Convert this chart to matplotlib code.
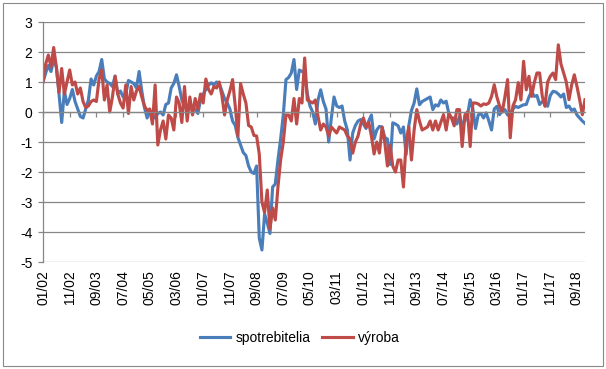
import matplotlib
matplotlib.use('Agg')
import matplotlib.pyplot as plt
from matplotlib.patches import Rectangle

plt.rcParams['font.family'] = ['Liberation Sans', 'DejaVu Sans']

# monthly values 01/2002 - 12/2018, one row per year
spotrebitelia = [
    1.0, 1.3, 1.55, 1.35, 1.75, 1.5, 0.6, -0.35, 0.7, 0.25, 0.45, 0.75,
    0.35, 0.1, -0.15, -0.2, 0.1, 0.4, 1.1, 0.9, 1.2, 1.35, 1.75, 1.1,
    1.0, 0.95, 0.85, 1.2, 0.6, 0.7, 0.5, 0.6, 1.05, 1.0, 0.95, 0.8,
    1.35, 0.7, 0.15, -0.2, 0.05, -0.1, -0.2, -0.05, 0.0, -0.1, 0.25, 0.3,
    0.8, 0.95, 1.24, 0.85, 0.4, 0.2, 0.05, 0.25, 0.1, 0.1, -0.05, 0.4,
    0.6, 0.75, 0.9, 0.97, 0.9, 1.0, 0.95, 0.7, 0.45, 0.3, 0.1, -0.3,
    -0.45, -0.85, -1.1, -1.35, -1.45, -1.8, -2.0, -2.05, -1.8, -4.2, -4.6, -3.4,
    -3.7, -4.05, -2.5, -2.4, -1.6, -0.9, -0.1, 1.08, 1.15, 1.3, 1.75, 0.75,
    1.4, 1.35, 1.3, 0.6, 0.2, 0.0, -0.4, 0.4, 0.74, 0.35, 0.1, -1.0,
    -0.2, 0.5, 0.2, 0.15, 0.2, -0.3, -0.6, -1.6, -0.7, -0.45, -0.3, -0.25,
    -0.4, -0.55, -0.3, -0.1, -0.9, -0.6, -0.48, -0.5, -0.85, -0.9, -1.75, -0.36,
    -0.4, -0.46, -0.7, -0.5, -1.42, -0.46, 0.05, 0.3, 0.77, 0.24, 0.35, 0.4,
    0.45, 0.5, 0.08, 0.24, 0.2, 0.4, 0.3, 0.36, -0.05, -0.2, -0.2, -0.4,
    -0.15, -0.4, -0.3, -0.1, 0.41, 0.1, -0.55, -0.1, -0.05, -0.2, -0.03, -0.3,
    -0.6, 0.1, 0.19, -0.09, 0.05, 0.08, -0.1, -0.05, 0.1, 0.19, 0.15, 0.2,
    0.24, 0.25, 0.5, 0.69, 0.52, 0.55, 0.25, 0.35, 0.3, 0.19, 0.55, 0.69,
    0.67, 0.6, 0.5, 0.6, 0.15, 0.2, 0.05, 0.1, -0.1, -0.2, -0.3, -0.38,
]

vyroba = [
    1.0, 1.6, 1.9, 1.5, 2.15, 1.5, 0.65, 1.45, 0.6, 1.0, 1.4, 0.9,
    1.0, 0.6, 0.8, 0.35, 0.15, 0.2, 0.35, 0.4, 0.35, 1.1, 1.4, 0.4,
    0.9, 0.0, 0.5, 1.19, 0.6, 0.3, 0.13, 0.9, -0.05, 0.85, 0.4, 0.7,
    0.85, 0.5, 0.2, 0.05, 0.1, -0.4, 0.9, -1.1, -0.6, -0.3, -0.9, -0.1,
    -0.2, -0.6, 0.5, 0.3, -0.35, 0.85, -0.3, 0.5, -0.1, 0.45, 0.1, 0.6,
    0.3, 1.1, 0.75, 0.6, 0.85, 0.8, 1.0, 0.55, -0.1, 0.4, 0.7, 1.08,
    0.2, -0.8, 0.95, 0.6, 0.3, -0.45, -0.5, -0.78, -0.8, -1.4, -3.0, -3.35,
    -2.6, -3.9, -3.2, -3.6, -2.5, -1.6, -1.0, -0.1, -0.1, -0.3, 0.45, -0.4,
    0.45, 0.3, 1.8, 0.4, 0.35, 0.3, 0.4, -0.15, -0.6, -0.4, -0.5, -0.8,
    -0.5, -0.6, -0.7, -0.5, -0.55, -0.6, -0.8, -0.9, -1.37, -1.0, -0.8, -0.4,
    -0.2, -0.5, -0.35, -0.8, -1.4, -1.0, -1.37, -0.5, -1.0, -1.8, -1.1, -1.8,
    -2.0, -1.6, -1.6, -2.5, -1.0, -0.5, -1.6, -0.6, 0.08, -0.3, -0.6, -0.55,
    -0.5, -0.3, -0.6, -0.3, -0.6, -0.35, -0.09, -0.6, -0.05, -0.2, -0.46, 0.08,
    0.08, -1.15, -0.1, 0.0, -1.15, 0.3, 0.3, 0.27, 0.2, 0.27, 0.25, 0.3,
    0.52, 0.91, 0.5, 0.2, 0.0, 0.5, 1.08, -0.86, 0.2, 0.41, 0.98, 0.4,
    1.69, 0.74, 1.19, 0.52, 0.98, 1.3, 1.3, 0.52, 0.19, 1.0, 1.19, 1.3,
    1.08, 2.24, 1.6, 1.3, 1.0, 0.41, 0.9, 1.24, 0.85, 0.41, -0.09, 0.41,
]

tick_labels = ['01/02', '11/02', '09/03', '07/04', '05/05', '03/06', '01/07',
               '11/07', '09/08', '07/09', '05/10', '03/11', '01/12', '11/12',
               '09/13', '07/14', '05/15', '03/16', '01/17', '11/17', '09/18']
tick_step = 10
y_ticks = list(range(-5, 4))

BLUE = '#4A7EBB'
RED = '#BE4B48'
GREY = '#868686'

fig = plt.figure(figsize=(6.06, 3.69), dpi=100)
ax = fig.add_axes([43 / 606, 107 / 369, 542 / 606, 240 / 369])

months = list(range(len(spotrebitelia)))
ax.plot(months, spotrebitelia, color=BLUE, linewidth=2.25, label='spotrebitelia')
ax.plot(months, vyroba, color=RED, linewidth=2.25, label='výroba')

ax.set_xlim(0, len(months) - 1)
ax.set_ylim(-5, 3)
ax.set_yticks(y_ticks)
ax.set_yticklabels([str(v) for v in y_ticks], fontsize=10)
ax.yaxis.grid(True, color=GREY, linewidth=0.9)
ax.set_axisbelow(True)

for side in ['top', 'right']:
    ax.spines[side].set_visible(False)
ax.spines['left'].set_color(GREY)
ax.spines['left'].set_linewidth(0.9)
ax.spines['bottom'].set_position(('data', 0))
ax.spines['bottom'].set_color(GREY)
ax.spines['bottom'].set_linewidth(0.9)

xt = [i * tick_step for i in range(len(tick_labels))]
ax.set_xticks(xt)
ax.tick_params(axis='x', labelbottom=False, length=3.5, color=GREY, width=0.9)
ax.tick_params(axis='y', length=3.5, color=GREY, width=0.9, pad=4)

# labels sit below the plot, axis line crosses at zero
sec = ax.secondary_xaxis('bottom')
sec.set_xticks(xt)
sec.set_xticklabels(tick_labels, rotation=90, fontsize=10)
sec.tick_params(length=0, pad=6)
sec.spines['bottom'].set_visible(False)

ax.legend(loc='center', bbox_to_anchor=(0.495, 0.084), bbox_transform=fig.transFigure,
          ncol=2, frameon=False, fontsize=10, handlelength=2.2,
          handletextpad=0.4, columnspacing=0.8)

fig.patches.append(Rectangle((3 / 606, 3 / 369), 600 / 606, 363 / 369,
                             transform=fig.transFigure, fill=False,
                             edgecolor='#898989', linewidth=0.8))

fig.savefig('out.png', dpi=100)
plt.close(fig)
